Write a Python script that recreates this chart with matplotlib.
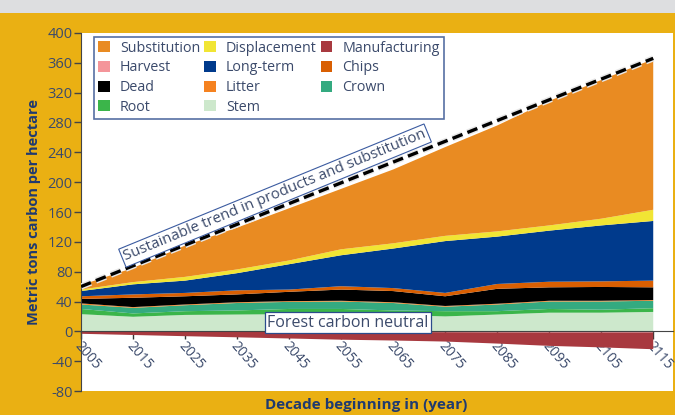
import matplotlib
matplotlib.use("Agg")
import matplotlib.pyplot as plt
import matplotlib.patheffects as pe
import matplotlib.transforms as mtransforms
from matplotlib.patches import Rectangle, Patch
import numpy as np

plt.rcParams['font.family'] = ['Open Sans', 'DejaVu Sans']
plt.rcParams['axes.unicode_minus'] = False

# ---------------- data ----------------
years = [2005, 2015, 2025, 2035, 2045, 2055, 2065, 2075, 2085, 2095, 2105, 2115]

stem         = [23, 19.5, 22, 22.5, 23, 23, 22, 20, 22.5, 25, 25, 26]
root         = [7, 4.5, 5, 5.5, 7, 7, 6, 7, 4.5, 5, 4, 5]
crown        = [6, 7.5, 8, 10, 9.5, 10, 10, 6, 9, 10, 11, 10]
litter       = [1.5, 1, 1, 1, 1, 1, 1, 1, 1, 1, 1, 1]
dead         = [6, 12.5, 11, 10.5, 12.5, 15, 15, 13, 20, 18, 18.5, 17]
chips        = [3.5, 4.5, 4.5, 5.5, 3, 4.5, 4, 4.5, 6.5, 7.5, 7.5, 9]
long_term    = [7, 13.5, 16.5, 23, 34, 41.5, 53, 69.5, 63.5, 68.5, 75, 80]
displacement = [2, 3, 5, 5, 5, 8, 7, 7, 7, 7, 9, 15]
substitution = [6, 19, 42, 56, 70, 81, 99, 119, 142, 167, 186, 202]
harvest       = [-0.3, -0.4, -0.5, -0.5, -0.6, -0.7, -0.8, -1.2, -1.4, -1.5, -1.5, -1.5]
manufacturing = [-3, -4.5, -6, -7.5, -9, -10.5, -11.5, -12.5, -15, -18, -20, -22.5]

trend_years = [2005, 2115]
trend_values = [60, 366]

yticks = [-80, -40, 0, 40, 80, 120, 160, 200, 240, 280, 320, 360, 400]
xticks = [2005, 2015, 2025, 2035, 2045, 2055, 2065, 2075, 2085, 2095, 2105, 2115]

colors = {
    'Stem': '#CDE8CC', 'Root': '#3BB54A', 'Crown': '#34AA80', 'Litter': '#F58220',
    'Dead': '#000000', 'Chips': '#D95F02', 'Long-term': '#003A8C',
    'Displacement': '#F1E534', 'Substitution': '#E98B22',
    'Harvest': '#F4959A', 'Manufacturing': '#A8393F',
}

text_col = '#3B4A6B'
navy = '#1F3A70'
gold = '#EAB013'

fig = plt.figure(figsize=(6.75, 4.15), dpi=100, facecolor=gold)
fig.patches.append(Rectangle((0, 1 - 13 / 415), 1, 13 / 415, transform=fig.transFigure,
                             facecolor='#DDDEE0', edgecolor='none', zorder=0))
ax = fig.add_axes([81 / 675, 24 / 415, 592 / 675, 358 / 415])
ax.set_facecolor('white')

for s in ['top', 'right']:
    ax.spines[s].set_visible(False)
ax.spines['bottom'].set_position(('data', 0))
ax.spines['bottom'].set_color('#444444')
ax.spines['bottom'].set_zorder(5)
ax.spines['left'].set_color('#444444')

pos_names = ['Stem', 'Root', 'Crown', 'Litter', 'Dead', 'Chips', 'Long-term',
             'Displacement', 'Substitution']
pos_vals = [stem, root, crown, litter, dead, chips, long_term, displacement, substitution]
ax.stackplot(years, *pos_vals, colors=[colors[n] for n in pos_names],
             linewidth=0, zorder=2)
neg_names = ['Harvest', 'Manufacturing']
ax.stackplot(years, harvest, manufacturing, colors=[colors[n] for n in neg_names],
             linewidth=0, zorder=2)

ax.plot(trend_years, trend_values, color='black', lw=2.4, ls=(0, (3.2, 1.6)), zorder=4,
        path_effects=[pe.withStroke(linewidth=4.5, foreground='#E8E8E8')])

ax.set_xlim(2005, 2118.8)
ax.set_ylim(-80, 400)
ax.set_yticks(yticks)
ax.set_yticklabels([str(v) for v in yticks])
ax.set_xticks(xticks)
ax.set_xticklabels([str(v) for v in xticks], rotation=-49, ha='left', va='top',
                   rotation_mode='anchor')

ax.tick_params(axis='y', colors='#444444', labelcolor=text_col, labelsize=10.5,
               length=5, width=1, pad=1)
ax.tick_params(axis='x', colors='#333333', labelcolor=text_col, labelsize=10,
               length=6, width=1, pad=0)
shift = mtransforms.ScaledTranslation(1.5 / 100, 1 / 100, fig.dpi_scale_trans)
for t in ax.get_xticklabels():
    t.set_zorder(6)
    t.set_transform(t.get_transform() + shift)

ax.set_ylabel('Metric tons carbon per hectare', fontsize=10.5, fontweight='bold',
              color=navy, labelpad=5)
fig.text(366 / 675, 1 - 405 / 415, 'Decade beginning in (year)', fontsize=11,
         fontweight='bold', color=navy, ha='center', va='center')

ax.text(2042.3, 182, 'Sustainable trend in products and substitution', rotation=22.3,
        rotation_mode='anchor', ha='center', va='center', fontsize=10.8, color=text_col,
        zorder=6,
        bbox=dict(boxstyle='square,pad=0.15', facecolor='white', edgecolor='#3B5BA0', lw=0.8))
ax.text(2056.3, 11.5, 'Forest carbon neutral', ha='center', va='center', fontsize=11.5,
        color=text_col, zorder=6,
        bbox=dict(boxstyle='square,pad=0.15', facecolor='white', edgecolor='#2B4C8C', lw=0.9))

legend_order = ['Substitution', 'Harvest', 'Dead', 'Root',
                'Displacement', 'Long-term', 'Litter', 'Stem',
                'Manufacturing', 'Chips', 'Crown']
handles = [Patch(facecolor=colors[n], edgecolor='none', label=n) for n in legend_order]
leg = ax.legend(handles=handles, ncol=3, loc='upper left', bbox_to_anchor=(0.022, 0.99),
                fontsize=10.3, frameon=True, fancybox=False, handlelength=0.8,
                handleheight=0.8, handletextpad=0.7, columnspacing=0.3,
                labelspacing=0.32, borderpad=0.3, borderaxespad=0)
leg.get_frame().set_edgecolor('#2B4C8C')
leg.get_frame().set_linewidth(1.2)
for t in leg.get_texts():
    t.set_color(text_col)
leg.set_zorder(7)

fig.savefig('out.png', dpi=100, facecolor=gold)
